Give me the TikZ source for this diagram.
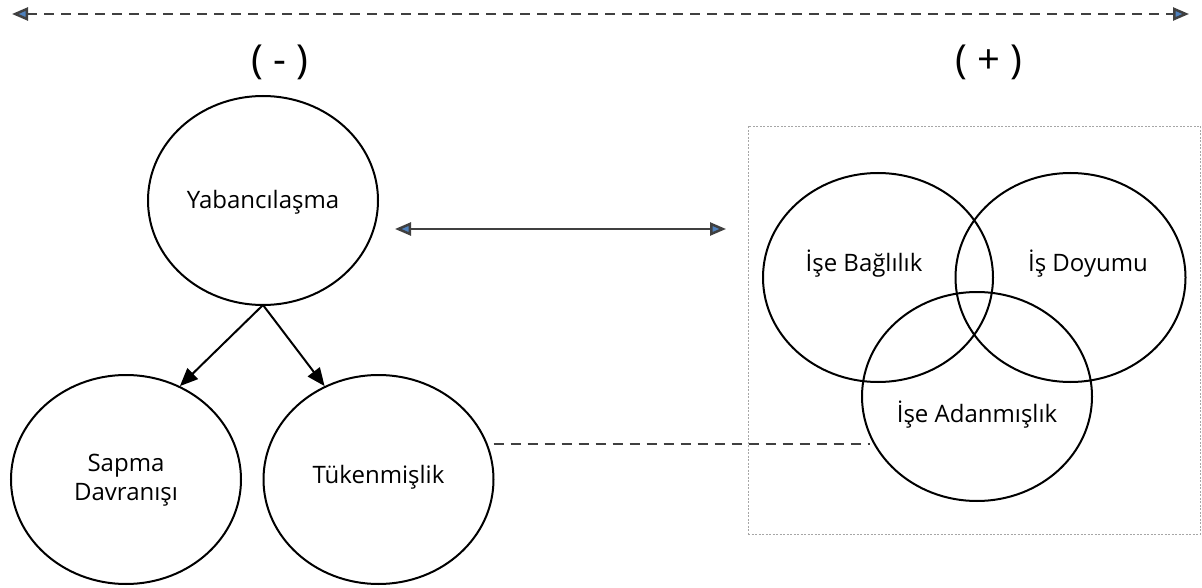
\documentclass[tikz,border=0pt]{standalone}
\usepackage{fontspec}
\setmainfont{Open Sans}
\usetikzlibrary{shapes.geometric,arrows.meta}
\definecolor{tipblue}{RGB}{79,129,189}
\definecolor{darkline}{RGB}{64,64,64}
\tikzset{
  oval/.style={draw=black, line width=2pt, ellipse, inner sep=0pt, minimum width=230pt, minimum height=209pt},
  lbl/.style={font=\fontsize{24}{29}\selectfont, align=center, inner sep=0pt},
  sign/.style={font=\fontsize{40}{44}\selectfont, inner sep=0pt},
  bluetips/.style={{Triangle[length=16pt,width=13pt,fill=tipblue]}-{Triangle[length=16pt,width=13pt,fill=tipblue]}},
  blacktip/.style={-{Triangle[length=18pt,width=15pt]}}
}
\begin{document}
\begin{tikzpicture}[x=1pt,y=-1pt]
\useasboundingbox (0,0) rectangle (1202,588);
% top dashed double arrow
\coordinate (tl) at (12,14);
\coordinate (tr) at (1189,14);
\draw[darkline, line width=2.5pt, dash pattern=on 10pt off 7pt, bluetips] (tl) -- (tr);
% signs
\node[sign] (minus) at (280,62) {( - )};
\node[sign] (plus) at (989,62) {( + )};
% left ellipses
\node[oval] (yab) at (263,200.5) {};
\node[lbl] (yabt) at (263,202) {Yabancılaşma};
\node[oval] (sap) at (126,479.5) {};
\node[lbl] (sapt) at (126,480) {Sapma\\Davranışı};
\node[oval] (tuk) at (378.5,479.5) {};
\node[lbl] (tukt) at (378.5,477) {Tükenmişlik};
% arrows
\coordinate (ybot) at (263,305);
\draw[black, line width=2pt, blacktip] (ybot) -- (sap.60);
\draw[black, line width=2pt, blacktip] (ybot) -- (tuk.120);
% box
\node[draw=gray!70, dash pattern=on 2pt off 1.5pt, line width=0.9pt, minimum width=452pt, minimum height=408pt, inner sep=0pt] (box) at (974,330) {};
% venn
\node[oval] (bag) at (878,277.5) {};
\node[oval] (doy) at (1070.5,277.5) {};
\node[oval] (ada) at (977,396.5) {};
\node[lbl] (bagt) at (864,264) {İşe Bağlılık};
\node[lbl] (doyt) at (1088,264) {İş Doyumu};
\node[lbl] (adat) at (977,415) {İşe Adanmışlık};
% double arrow
\coordinate (dl) at (395,229);
\coordinate (dr) at (726,229);
\draw[darkline, line width=2.5pt, bluetips] (dl) -- (dr);
% dashed connector
\coordinate (cr) at (870,444);
\draw[darkline, line width=2.5pt, dash pattern=on 10pt off 7pt] (tuk.east |- cr) ++(-1,0) -- (cr);
\end{tikzpicture}
\end{document}
